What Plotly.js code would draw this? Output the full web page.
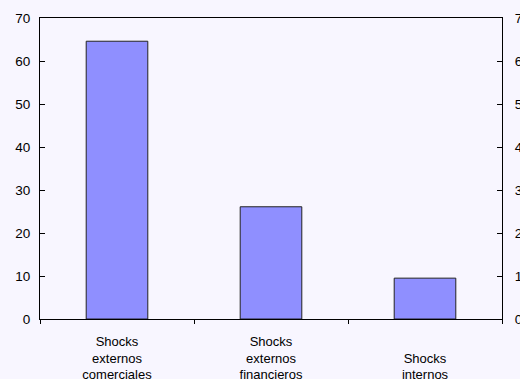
<!DOCTYPE html>
<html><head><meta charset="utf-8">
<script src="https://cdn.plot.ly/plotly-3.0.1.min.js"></script>
<style>html,body{margin:0;padding:0;background:#f8f6ff;}</style>
</head><body>
<div id="chart" style="width:520px;height:379px;"></div>
<script>
const categories = ["Shocks<br>externos<br>comerciales", "Shocks<br>externos<br>financieros", " <br>Shocks<br>internos"];
const values = [64.6, 26.1, 9.5];
const yTicks = [0, 10, 20, 30, 40, 50, 60, 70];

const font = {family: "Liberation Sans, Arial, sans-serif", size: 13.5, color: "#000"};
const xfont = {family: "Liberation Sans, Arial, sans-serif", size: 13, color: "#000"};

const traces = [
  {type: "bar", x: categories, y: values, marker: {color: "#8f8fff", line: {color: "#222", width: 1}}, hoverinfo: "skip"},
  {type: "scatter", mode: "markers", x: categories, y: values, yaxis: "y2", marker: {opacity: 0}, hoverinfo: "skip", showlegend: false}
];

const layout = {
  width: 520, height: 379,
  margin: {l: 40, r: 18, t: 18, b: 60},
  paper_bgcolor: "#f8f6ff", plot_bgcolor: "#f8f6ff",
  showlegend: false, bargap: 0.6,
  font: font,
  xaxis: {type: "category", tickson: "boundaries", ticks: "outside", ticklen: 4, tickcolor: "#000",
          showline: true, linecolor: "#000", linewidth: 1, mirror: true, showgrid: false, zeroline: false,
          tickfont: xfont, ticklabelstandoff: 10},
  yaxis: {range: [0, 70], tickvals: yTicks, ticks: "inside", ticklen: 5, tickcolor: "#000",
          showline: true, linecolor: "#000", linewidth: 1, showgrid: false, zeroline: false,
          tickfont: font, ticklabelstandoff: 6},
  yaxis2: {range: [0, 70], tickvals: yTicks, overlaying: "y", side: "right", ticks: "inside", ticklen: 5, tickcolor: "#000",
          showline: true, linecolor: "#000", linewidth: 1, showgrid: false, zeroline: false,
          tickfont: font, ticklabelstandoff: 9}
};
Plotly.newPlot("chart", traces, layout, {displayModeBar: false, staticPlot: true});
</script>
</body></html>
